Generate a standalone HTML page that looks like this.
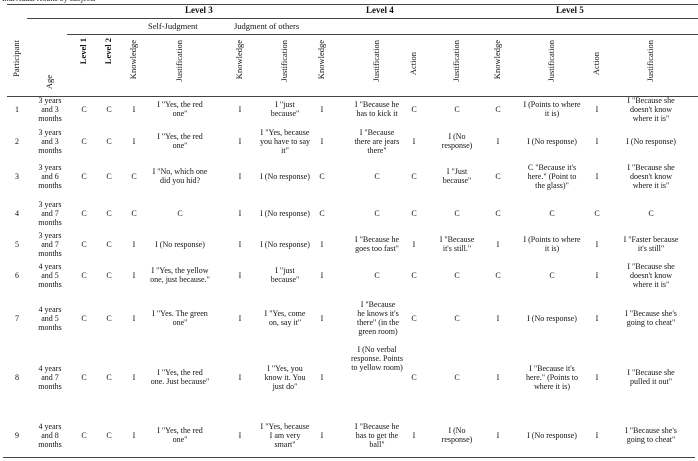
<!DOCTYPE html>
<html><head><meta charset="utf-8"><style>
body{margin:0;background:#fff;}
#w{position:relative;width:698px;height:461px;overflow:hidden;font-family:"Liberation Serif",serif;font-size:8px;line-height:9px;color:#111;}
.l{position:absolute;height:1px;background:#444;}
.r{position:absolute;left:0;width:698px;}
.c{position:absolute;top:0;height:100%;display:flex;align-items:center;justify-content:center;text-align:center;}
.c0{left:5px;width:24px}.c1{left:37px;width:26px}.c2{left:72px;width:24px}.c3{left:97px;width:24px}.c4{left:122px;width:24px}
.c5{left:150px;width:60px}.c6{left:228px;width:24px}.c7{left:260px;width:50px}.c8{left:310px;width:24px}.c9{left:351px;width:52px}
.c10{left:402px;width:24px}.c11{left:437px;width:40px}.c12{left:486px;width:24px}.c13{left:522px;width:60px}.c14{left:585px;width:24px}.c15{left:622px;width:58px}
.h{position:absolute;writing-mode:vertical-rl;transform:rotate(180deg);white-space:nowrap;font-size:8.5px;}
.b{font-weight:bold;}
</style></head><body><div id="w">
<div style="position:absolute;left:2px;top:-6px;font-size:8px">Individual results by subjects</div>
<div class="l" style="left:7px;top:4px;width:691px"></div>
<div class="l" style="left:27px;top:18px;width:671px"></div>
<div class="l" style="left:67px;top:34px;width:631px"></div>
<div class="l" style="left:7px;top:96px;width:691px"></div>
<div class="l" style="left:3px;top:457px;width:692px"></div>
<div class="b" style="position:absolute;left:185px;top:6px;font-size:9px">Level 3</div>
<div class="b" style="position:absolute;left:366px;top:6px;font-size:9px">Level 4</div>
<div class="b" style="position:absolute;left:556px;top:6px;font-size:9px">Level 5</div>
<div style="position:absolute;left:148px;top:22px;font-size:8.5px">Self-Judgment</div>
<div style="position:absolute;left:234px;top:22px;font-size:8.5px">Judgment of others</div>
<div class="h" style="left:12px;top:40px">Participant</div>
<div class="h" style="left:45px;top:75px">Age</div>
<div class="h b" style="left:79px;top:38px">Level 1</div>
<div class="h b" style="left:104px;top:38px">Level 2</div>
<div class="h" style="left:129px;top:40px">Knowledge</div>
<div class="h" style="left:175px;top:40px">Justification</div>
<div class="h" style="left:235px;top:40px">Knowledge</div>
<div class="h" style="left:280px;top:40px">Justification</div>
<div class="h" style="left:317px;top:40px">Knowledge</div>
<div class="h" style="left:372px;top:40px">Justification</div>
<div class="h" style="left:409px;top:52px">Action</div>
<div class="h" style="left:452px;top:40px">Justification</div>
<div class="h" style="left:493px;top:40px">Knowledge</div>
<div class="h" style="left:547px;top:40px">Justification</div>
<div class="h" style="left:592px;top:52px">Action</div>
<div class="h" style="left:646px;top:40px">Justification</div>

<div class="r" style="top:90px;height:38px"><div class="c c0">1</div><div class="c c1">3 years and 3 months</div><div class="c c2">C</div><div class="c c3">C</div><div class="c c4">I</div><div class="c c5">I "Yes, the red one"</div><div class="c c6">I</div><div class="c c7">I "just because"</div><div class="c c8">I</div><div class="c c9">I "Because he has to kick it</div><div class="c c10">C</div><div class="c c11">C</div><div class="c c12">C</div><div class="c c13">I (Points to where it is)</div><div class="c c14">I</div><div class="c c15">I "Because she doesn't know where it is"</div></div>

<div class="r" style="top:122px;height:38px"><div class="c c0">2</div><div class="c c1">3 years and 3 months</div><div class="c c2">C</div><div class="c c3">C</div><div class="c c4">I</div><div class="c c5">I "Yes, the red one"</div><div class="c c6">I</div><div class="c c7">I "Yes, because you have to say it"</div><div class="c c8">I</div><div class="c c9">I "Because there are jears there"</div><div class="c c10">I</div><div class="c c11">I (No response)</div><div class="c c12">I</div><div class="c c13">I (No response)</div><div class="c c14">I</div><div class="c c15">I (No response)</div></div>

<div class="r" style="top:157px;height:38px"><div class="c c0">3</div><div class="c c1">3 years and 6 months</div><div class="c c2">C</div><div class="c c3">C</div><div class="c c4">C</div><div class="c c5">I "No, which one did you hid?</div><div class="c c6">I</div><div class="c c7">I (No response)</div><div class="c c8">C</div><div class="c c9">C</div><div class="c c10">C</div><div class="c c11">I "Just because"</div><div class="c c12">C</div><div class="c c13">C "Because it's here." (Point to the glass)"</div><div class="c c14">I</div><div class="c c15">I "Because she doesn't know where it is"</div></div>

<div class="r" style="top:194px;height:38px"><div class="c c0">4</div><div class="c c1">3 years and 7 months</div><div class="c c2">C</div><div class="c c3">C</div><div class="c c4">C</div><div class="c c5">C</div><div class="c c6">I</div><div class="c c7">I (No response)</div><div class="c c8">C</div><div class="c c9">C</div><div class="c c10">C</div><div class="c c11">C</div><div class="c c12">C</div><div class="c c13">C</div><div class="c c14">C</div><div class="c c15">C</div></div>

<div class="r" style="top:225px;height:38px"><div class="c c0">5</div><div class="c c1">3 years and 7 months</div><div class="c c2">C</div><div class="c c3">C</div><div class="c c4">I</div><div class="c c5">I (No response)</div><div class="c c6">I</div><div class="c c7">I (No response)</div><div class="c c8">I</div><div class="c c9">I "Because he goes too fast"</div><div class="c c10">I</div><div class="c c11">I "Because it's still."</div><div class="c c12">I</div><div class="c c13">I (Points to where it is)</div><div class="c c14">I</div><div class="c c15">I "Faster because it's still"</div></div>

<div class="r" style="top:256px;height:38px"><div class="c c0">6</div><div class="c c1">4 years and 5 months</div><div class="c c2">C</div><div class="c c3">C</div><div class="c c4">I</div><div class="c c5">I "Yes, the yellow one, just because."</div><div class="c c6">I</div><div class="c c7">I "just because"</div><div class="c c8">I</div><div class="c c9">C</div><div class="c c10">C</div><div class="c c11">C</div><div class="c c12">C</div><div class="c c13">C</div><div class="c c14">I</div><div class="c c15">I "Because she doesn't know where it is"</div></div>

<div class="r" style="top:299px;height:38px"><div class="c c0">7</div><div class="c c1">4 years and 5 months</div><div class="c c2">C</div><div class="c c3">C</div><div class="c c4">I</div><div class="c c5">I "Yes. The green one"</div><div class="c c6">I</div><div class="c c7">I "Yes, come on, say it"</div><div class="c c8">I</div><div class="c c9" style="left:356px;width:44px">I "Because he knows it's there" (in the green room)</div><div class="c c10">C</div><div class="c c11">C</div><div class="c c12">I</div><div class="c c13">I (No response)</div><div class="c c14">I</div><div class="c c15">I "Because she's going to cheat"</div></div>

<div class="r" style="top:358px;height:38px"><div class="c c0">8</div><div class="c c1">4 years and 7 months</div><div class="c c2">C</div><div class="c c3">C</div><div class="c c4">I</div><div class="c c5">I "Yes, the red one. Just because"</div><div class="c c6">I</div><div class="c c7">I "Yes, you know it. You just do"</div><div class="c c8">I</div><div class="c c10">C</div><div class="c c11">C</div><div class="c c12">I</div><div class="c c13">I "Because it's here." (Points to where it is)</div><div class="c c14">I</div><div class="c c15">I "Because she pulled it out"</div></div>
<div class="r" style="top:339px;height:38px"><div class="c c9">I (No verbal response. Points to yellow room)</div></div>

<div class="r" style="top:416px;height:38px"><div class="c c0">9</div><div class="c c1">4 years and 8 months</div><div class="c c2">C</div><div class="c c3">C</div><div class="c c4">I</div><div class="c c5">I "Yes, the red one"</div><div class="c c6">I</div><div class="c c7">I "Yes, because I am very smart"</div><div class="c c8">I</div><div class="c c9">I "Because he has to get the ball"</div><div class="c c10">I</div><div class="c c11">I (No response)</div><div class="c c12">I</div><div class="c c13">I (No response)</div><div class="c c14">I</div><div class="c c15">I "Because she's going to cheat"</div></div>
</div></body></html>
